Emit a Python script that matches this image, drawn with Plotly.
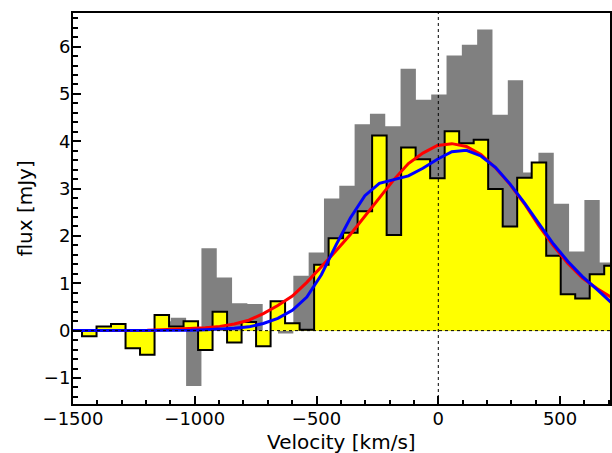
import plotly.graph_objects as go

# ---- data ----
# yellow spectrum: channel centres (km/s) and flux (mJy)
vel_yellow = [-1552.3, -1492.8, -1433.2, -1373.6, -1314.1, -1254.5, -1195.0, -1135.4,
              -1075.8, -1016.3, -956.7, -897.2, -837.6, -778.0, -718.5, -658.9,
              -599.4, -539.8, -480.2, -420.7, -361.1, -301.6, -242.0, -182.4,
              -122.9, -63.3, -3.8, 55.8, 115.4, 175.0, 234.5, 294.1, 353.6,
              413.2, 472.8, 532.3, 591.9, 651.4, 711.0]
flux_yellow = [0, 0, -0.12, 0.085, 0.14, -0.37, -0.51, 0.33, 0.085, 0.2, -0.41, 0.40,
               -0.25, 0.18, -0.33, 0.62, 0.155, 0.02, 1.39, 1.95, 2.07, 2.52, 4.12,
               2.02, 3.87, 3.62, 3.22, 4.21, 3.96, 4.03, 2.99, 2.2, 3.23, 3.55, 1.58,
               0.77, 0.68, 1.19, 1.37]

# grey spectrum: channel centres (km/s) and flux (mJy)
vel_grey = [-1570.2, -1507.3, -1444.4, -1381.5, -1318.6, -1255.7, -1192.8, -1129.9,
            -1067.0, -1004.1, -941.2, -878.3, -815.4, -752.5, -689.6, -626.7,
            -563.8, -500.9, -438.0, -375.1, -312.2, -249.3, -186.4, -123.5,
            -60.6, 2.3, 65.2, 128.1, 191.0, 253.9, 316.8, 379.7, 442.6, 505.5,
            568.4, 631.3, 694.2]
flux_grey = [0, 0, 0, 0, 0, 0, 0, 0.2, 0.27, -1.17, 1.74, 1.12, 0.58, 0.56, 0.0,
             -0.06, 1.16, 1.65, 2.79, 3.06, 4.36, 4.58, 4.32, 5.53, 4.88, 4.99,
             5.81, 6.04, 6.36, 4.56, 5.29, 3.34, 3.76, 2.68, 1.67, 2.76, 1.44]

# model curves sampled at the yellow channel centres
model_red = [0, 0, 0.00, 0.00, 0.00, 0.01, 0.01, 0.02, 0.03, 0.04, 0.06, 0.09, 0.14,
             0.22, 0.36, 0.53, 0.73, 1.02, 1.34, 1.68, 2.03, 2.42, 2.81, 3.19, 3.53,
             3.75, 3.91, 3.95, 3.89, 3.72, 3.44, 3.09, 2.68, 2.21, 1.79, 1.42, 1.11,
             0.89, 0.70]
model_blue = [0, 0, 0.00, 0.00, 0.00, 0.00, 0.00, 0.00, 0.01, 0.01, 0.02, 0.03, 0.05,
              0.08, 0.15, 0.26, 0.43, 0.71, 1.18, 1.80, 2.38, 2.85, 3.11, 3.19, 3.27,
              3.43, 3.62, 3.78, 3.81, 3.69, 3.45, 3.10, 2.70, 2.26, 1.83, 1.46, 1.14,
              0.87, 0.59]

x_ticks = [-1500, -1000, -500, 0, 500]
y_ticks = [-1, 0, 1, 2, 3, 4, 5, 6]


def step_xy(centres, values):
    w = centres[1] - centres[0]
    xs = [c - w / 2 for c in centres] + [centres[-1] + w / 2]
    ys = list(values) + [values[-1]]
    return xs, ys


def lab(v):
    return ("\u2212" + str(abs(v))) if v < 0 else str(v)


gx, gy = step_xy(vel_grey, flux_grey)
yx, yy = step_xy(vel_yellow, flux_yellow)

fig = go.Figure()
fig.add_trace(go.Scatter(x=gx, y=gy, mode="lines", line=dict(width=0, shape="hv", color="#808080"),
                         fill="tozeroy", fillcolor="#808080", hoverinfo="skip"))
fig.add_trace(go.Scatter(x=yx, y=yy, mode="lines", line=dict(width=0, shape="hv", color="#ffff00"),
                         fill="tozeroy", fillcolor="#ffff00", hoverinfo="skip"))
fig.add_trace(go.Scatter(x=yx, y=yy, mode="lines", line=dict(width=2, shape="hv", color="black")))
fig.add_trace(go.Scatter(x=vel_yellow, y=model_red, mode="lines", line=dict(width=3, color="#ff0000")))
fig.add_trace(go.Scatter(x=vel_yellow, y=model_blue, mode="lines", line=dict(width=3, color="#0000ff")))

fig.add_shape(type="line", xref="paper", yref="y", x0=0, x1=1, y0=0, y1=0,
              line=dict(color="black", width=1, dash="dot"), layer="above")
fig.add_shape(type="line", xref="x", yref="paper", x0=0, x1=0, y0=0, y1=1,
              line=dict(color="black", width=1, dash="dot"), layer="above")

font = "DejaVu Sans, sans-serif"
W, H = 612, 453
L, R, T, B = 73, 1.5, 13, 49
pw, ph = W - L - R, H - T - B

fig.add_annotation(text="Velocity [km/s]", xref="paper", yref="paper",
                   x=0.5, y=-(442 - (H - B)) / ph, xanchor="center", yanchor="middle",
                   showarrow=False, font=dict(size=20, family=font, color="black"))
fig.add_annotation(text="flux [mJy]", xref="paper", yref="paper", textangle=-90,
                   x=(24 - L) / pw, y=0.5, xanchor="center", yanchor="middle",
                   showarrow=False, font=dict(size=20, family=font, color="black"))

fig.update_layout(
    width=W, height=H,
    margin=dict(l=L, r=R, t=T, b=B),
    paper_bgcolor="white", plot_bgcolor="white",
    showlegend=False,
    font=dict(family=font, size=18, color="black"),
    xaxis=dict(range=[-1500, 705], showgrid=False, zeroline=False, automargin=False,
               showline=True, linecolor="black", linewidth=2, mirror=True,
               ticks="inside", ticklen=8, tickwidth=2, tickcolor="black",
               tickvals=x_ticks, ticktext=[lab(v) for v in x_ticks],
               tickfont=dict(size=18, family=font), ticklabelstandoff=-3,
               minor=dict(ticks="inside", ticklen=4.5, tickwidth=2, tickcolor="black", dtick=100)),
    yaxis=dict(range=[-1.55, 6.71], showgrid=False, zeroline=False, automargin=False,
               showline=True, linecolor="black", linewidth=2, mirror=True,
               ticks="inside", ticklen=8, tickwidth=2, tickcolor="black",
               tickvals=y_ticks, ticktext=[lab(v) for v in y_ticks],
               tickfont=dict(size=18, family=font), ticklabelstandoff=-3,
               minor=dict(ticks="inside", ticklen=4.5, tickwidth=2, tickcolor="black", dtick=0.2)),
)

fig.write_html("out.html", config={"displayModeBar": False},
               post_script="document.body.style.margin='0';document.body.style.overflow='hidden';")
